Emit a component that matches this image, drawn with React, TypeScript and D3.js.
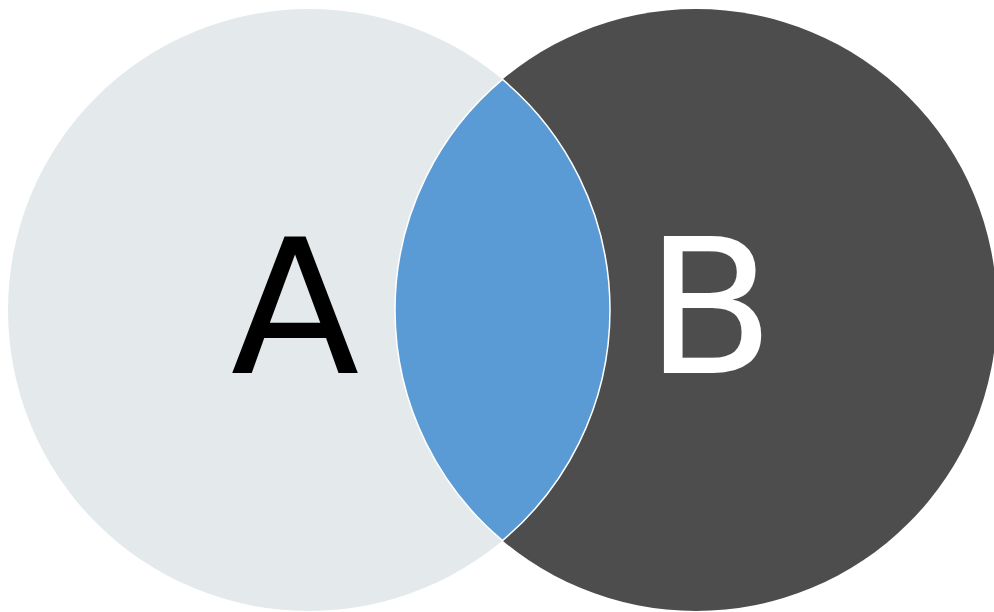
import React from "react";
import * as d3 from "d3";

// ---- data ----
const setNames: string[] = ["A", "B"];
const setSizes: number[] = [10, 10];
const overlapSize: number = 2.42; // size of A ∩ B

const setColors: string[] = ["#e4eaec", "#4d4d4d"];
const overlapColor = "#5b9bd5";
const labelColors: string[] = ["#000000", "#ffffff"];

const W = 994;
const H = 612;

function lensArea(r1: number, r2: number, d: number): number {
  if (d >= r1 + r2) return 0;
  if (d <= Math.abs(r1 - r2)) return Math.PI * Math.min(r1, r2) ** 2;
  const a = r1 * r1 * Math.acos((d * d + r1 * r1 - r2 * r2) / (2 * d * r1));
  const b = r2 * r2 * Math.acos((d * d + r2 * r2 - r1 * r1) / (2 * d * r2));
  const c = 0.5 * Math.sqrt((-d + r1 + r2) * (d + r1 - r2) * (d - r1 + r2) * (d + r1 + r2));
  return a + b - c;
}

function distanceForOverlap(r1: number, r2: number, area: number): number {
  let lo = Math.abs(r1 - r2);
  let hi = r1 + r2;
  for (let i = 0; i < 100; i++) {
    const mid = (lo + hi) / 2;
    if (lensArea(r1, r2, mid) > area) lo = mid;
    else hi = mid;
  }
  return (lo + hi) / 2;
}

export default function App() {
  const r1 = Math.sqrt(setSizes[0] / Math.PI);
  const r2 = Math.sqrt(setSizes[1] / Math.PI);
  const d = distanceForOverlap(r1, r2, overlapSize);
  const rMax = Math.max(r1, r2);

  // data-space -> pixel scales (same unit on both axes)
  const top = 9;
  const bottom = 611;
  const left = 8;
  const y = d3.scaleLinear().domain([-rMax, rMax]).range([top, bottom]);
  const k = (bottom - top) / (2 * rMax);
  const x = d3
    .scaleLinear()
    .domain([-r1, d + r2])
    .range([left, left + (r1 + d + r2) * k]);

  const circles = [
    { name: setNames[0], cx: x(0), cy: y(0), r: r1 * k, fill: setColors[0], label: labelColors[0], dir: -1 },
    { name: setNames[1], cx: x(d), cy: y(0), r: r2 * k, fill: setColors[1], label: labelColors[1], dir: 1 },
  ];

  // intersection points
  const dPx = circles[1].cx - circles[0].cx;
  const R1 = circles[0].r;
  const R2 = circles[1].r;
  const a = (dPx * dPx + R1 * R1 - R2 * R2) / (2 * dPx);
  const h = Math.sqrt(R1 * R1 - a * a);
  const ix = circles[0].cx + a;
  const cy = circles[0].cy;
  const lensPath =
    `M${ix},${cy - h}` +
    ` A${R1},${R1} 0 0 1 ${ix},${cy + h}` +
    ` A${R2},${R2} 0 0 1 ${ix},${cy - h} Z`;

  const fontSize = 188;

  return (
    <svg
      width={W}
      height={H}
      style={{ position: "absolute", left: 0, top: 0, display: "block", background: "#ffffff" }}
    >
      {circles.map((c) => (
        <circle key={c.name} cx={c.cx} cy={c.cy} r={c.r} fill={c.fill} />
      ))}
      <path d={lensPath} fill={overlapColor} stroke="#ffffff" strokeWidth={1.5} />
      {circles.map((c) => (
        <text
          key={"l" + c.name}
          x={c.cx + c.dir * 14}
          y={c.cy + 63}
          textAnchor="middle"
          fill={c.label}
          style={{ fontFamily: "'DejaVu Sans', sans-serif", fontSize: fontSize }}
        >
          {c.name}
        </text>
      ))}
    </svg>
  );
}
